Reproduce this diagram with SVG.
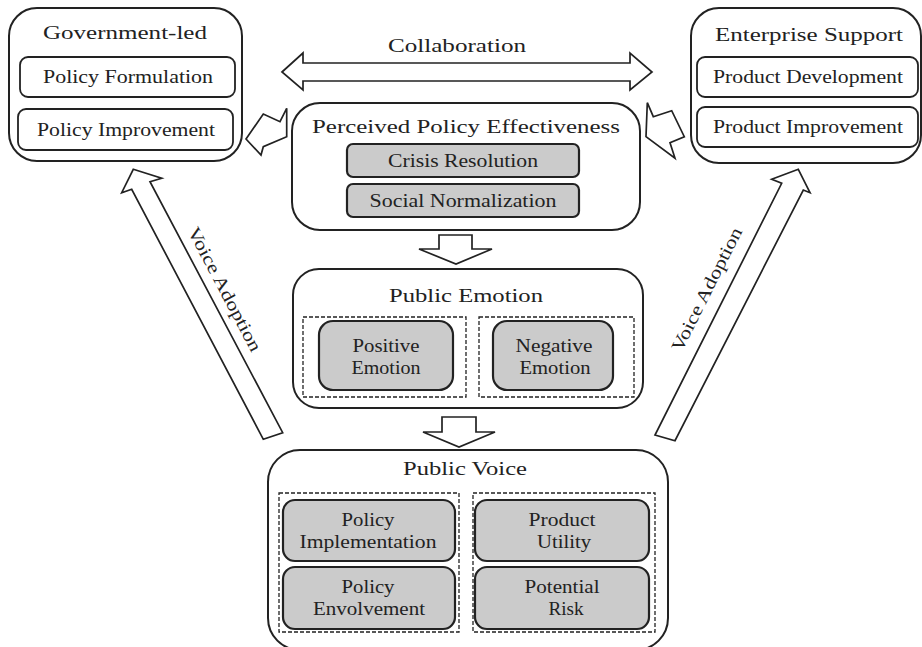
<svg xmlns="http://www.w3.org/2000/svg" width="922" height="647" viewBox="0 0 922 647">
  <style>
    text { font-family: "Liberation Serif", "Times New Roman", serif; fill: #222; text-anchor: middle; }
    .t { font-size: 19px; }
    .s { font-size: 18px; }
    .outer { fill: #fff; stroke: #222; stroke-width: 2; }
    .inner { fill: #fff; stroke: #222; stroke-width: 1.8; }
    .gray { fill: #cbcbcb; stroke: #222; stroke-width: 2.2; }
    .dash { fill: none; stroke: #222; stroke-width: 1.3; stroke-dasharray: 4 2; }
    .arrow { fill: #fff; stroke: #222; stroke-width: 1.7; stroke-linejoin: miter; }
  </style>

  <rect width="922" height="647" fill="#fff"/>

  <!-- block arrows and their labels -->
  <g id="connectors">
    <polygon class="arrow" points="282,72 303,53 303,63 630,63 630,53 652,72 630,90 630,81 303,81 303,90"/>
    <polygon class="arrow" points="246,139 263.3,114 280,121.7 286.7,108.3 286.7,136.7 263.3,146.7 261,155"/>
    <polygon class="arrow" points="646,136.7 647.3,102.7 653.3,116.7 671.7,110.7 684.3,136.7 670,142.7 675,158.3"/>
    <polygon class="arrow" points="439,235 472,235 472,249 492,249 456,264 419,249 439,249"/>
    <polygon class="arrow" points="442,417 476,417 476,432 495,432 459,447 423,432 442,432"/>
    <polygon class="arrow" points="133.3,169.3 161.7,178.3 150,181.7 282.7,432.7 263.3,439.3 131.7,189.3 121.7,192.7"/>
    <polygon class="arrow" points="798.3,169.3 810,192.7 803.3,190 675,440.7 655,435 781.7,183.3 771.7,179.3"/>
    <text class="s" x="457" y="52" textLength="138" lengthAdjust="spacingAndGlyphs">Collaboration</text>
    <text class="s" transform="translate(219.5,292) rotate(62.2)" textLength="138" lengthAdjust="spacingAndGlyphs">Voice Adoption</text>
    <text class="s" transform="translate(712,292) rotate(-63.3)" textLength="136" lengthAdjust="spacingAndGlyphs">Voice Adoption</text>
  </g>

  <g id="government-led">
    <rect class="outer" x="9" y="8" width="233" height="153" rx="28"/>
    <text class="t" x="125" y="39" textLength="164" lengthAdjust="spacingAndGlyphs">Government-led</text>
    <rect class="inner" x="20" y="57" width="215" height="40" rx="8"/>
    <text class="s" x="128" y="83" textLength="170" lengthAdjust="spacingAndGlyphs">Policy Formulation</text>
    <rect class="inner" x="18" y="109" width="215" height="41" rx="8"/>
    <text class="s" x="126" y="136" textLength="178" lengthAdjust="spacingAndGlyphs">Policy Improvement</text>
  </g>

  <g id="enterprise-support">
    <rect class="outer" x="691" y="8" width="230" height="155" rx="28"/>
    <text class="t" x="809" y="41" textLength="188" lengthAdjust="spacingAndGlyphs">Enterprise Support</text>
    <rect class="inner" x="697" y="57" width="221" height="40" rx="8"/>
    <text class="s" x="808" y="83" textLength="190" lengthAdjust="spacingAndGlyphs">Product Development</text>
    <rect class="inner" x="697" y="107" width="221" height="40" rx="8"/>
    <text class="s" x="808" y="133" textLength="190" lengthAdjust="spacingAndGlyphs">Product Improvement</text>
  </g>

  <g id="perceived-policy-effectiveness">
    <rect class="outer" x="292" y="103" width="348" height="127" rx="28"/>
    <text class="t" x="466" y="133" textLength="308" lengthAdjust="spacingAndGlyphs">Perceived Policy Effectiveness</text>
    <rect class="gray" x="347" y="144" width="232" height="33" rx="6"/>
    <text class="s" x="463" y="167" textLength="150" lengthAdjust="spacingAndGlyphs">Crisis Resolution</text>
    <rect class="gray" x="347" y="184" width="232" height="33" rx="6"/>
    <text class="s" x="463" y="207" textLength="187" lengthAdjust="spacingAndGlyphs">Social Normalization</text>
  </g>

  <g id="public-emotion">
    <rect class="outer" x="293" y="269" width="350" height="139" rx="26"/>
    <text class="t" x="466" y="302" textLength="154" lengthAdjust="spacingAndGlyphs">Public Emotion</text>
    <rect class="dash" x="303" y="317" width="163" height="80"/>
    <rect class="dash" x="479" y="317" width="155" height="80"/>
    <rect class="gray" x="319" y="321" width="134" height="69" rx="14"/>
    <text class="s" x="386" y="352" textLength="67" lengthAdjust="spacingAndGlyphs">Positive</text>
    <text class="s" x="386" y="374" textLength="69" lengthAdjust="spacingAndGlyphs">Emotion</text>
    <rect class="gray" x="493" y="321" width="120" height="69" rx="14"/>
    <text class="s" x="554" y="352" textLength="77" lengthAdjust="spacingAndGlyphs">Negative</text>
    <text class="s" x="555" y="374" textLength="71" lengthAdjust="spacingAndGlyphs">Emotion</text>
  </g>

  <g id="public-voice">
    <rect class="outer" x="268" y="450" width="400" height="200" rx="32"/>
    <text class="t" x="465" y="475" textLength="124" lengthAdjust="spacingAndGlyphs">Public Voice</text>
    <rect class="dash" x="279" y="493" width="180" height="139"/>
    <rect class="dash" x="473" y="493" width="182" height="139"/>
    <rect class="gray" x="283" y="500" width="172" height="61" rx="12"/>
    <text class="s" x="368" y="526" textLength="53" lengthAdjust="spacingAndGlyphs">Policy</text>
    <text class="s" x="368" y="548" textLength="137" lengthAdjust="spacingAndGlyphs">Implementation</text>
    <rect class="gray" x="283" y="567" width="172" height="62" rx="12"/>
    <text class="s" x="368" y="593" textLength="53" lengthAdjust="spacingAndGlyphs">Policy</text>
    <text class="s" x="369" y="615" textLength="112" lengthAdjust="spacingAndGlyphs">Envolvement</text>
    <rect class="gray" x="475" y="500" width="174" height="61" rx="12"/>
    <text class="s" x="562" y="526" textLength="67" lengthAdjust="spacingAndGlyphs">Product</text>
    <text class="s" x="564" y="548" textLength="54" lengthAdjust="spacingAndGlyphs">Utility</text>
    <rect class="gray" x="475" y="567" width="174" height="62" rx="12"/>
    <text class="s" x="562" y="593" textLength="75" lengthAdjust="spacingAndGlyphs">Potential</text>
    <text class="s" x="566" y="615" textLength="35" lengthAdjust="spacingAndGlyphs">Risk</text>
  </g>
</svg>
